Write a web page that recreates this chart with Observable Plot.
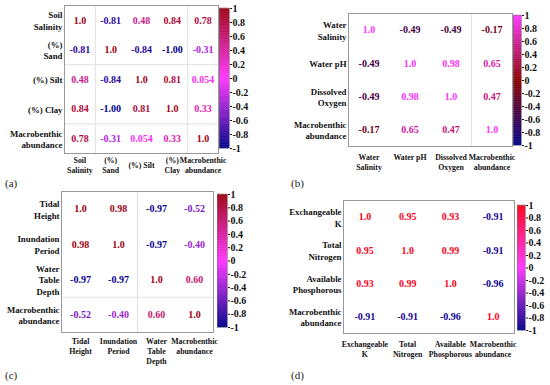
<!DOCTYPE html>
<html><head><meta charset="utf-8">
<script src="https://cdn.jsdelivr.net/npm/d3@7"></script>
<script src="https://cdn.jsdelivr.net/npm/@observablehq/plot@0.6"></script>
<style>
body{margin:0;background:#fff;}
#root{position:relative;width:550px;height:385px;overflow:hidden;font-family:"Liberation Serif","Times New Roman",serif;}
#root > *{position:absolute;}
#root svg text{font-family:"Liberation Serif","Times New Roman",serif;}
.tag{font-size:11px;color:#222;line-height:14px;}
</style></head><body><div id="root"></div>
<script>
// ---- data ----
const rowLabelsA = ["Soil\nSalinity","(%)\nSand","(%) Silt","(%) Clay","Macrobenthic\nabundance"];
const colLabelsA = ["Soil\nSalinity","(%)\nSand","(%) Silt","(%)\nClay","Macrobenthic\nabundance"];
const matrixA = [
  ["1.0","-0.81","0.48","0.84","0.78"],
  ["-0.81","1.0","-0.84","-1.00","-0.31"],
  ["0.48","-0.84","1.0","0.81","0.054"],
  ["0.84","-1.00","0.81","1.0","0.33"],
  ["0.78","-0.31","0.054","0.33","1.0"]
];
const rowLabelsB = ["Water\nSalinity","Water pH","Dissolved\nOxygen","Macrobenthic\nabundance"];
const colLabelsB = ["Water\nSalinity","Water pH","Dissolved\nOxygen","Macrobenthic\nabundance"];
const matrixB = [
  ["1.0","-0.49","-0.49","-0.17"],
  ["-0.49","1.0","0.98","0.65"],
  ["-0.49","0.98","1.0","0.47"],
  ["-0.17","0.65","0.47","1.0"]
];
const rowLabelsC = ["Tidal\nHeight","Inundation\nPeriod","Water\nTable\nDepth","Macrobenthic\nabundance"];
const colLabelsC = ["Tidal\nHeight","Inundation\nPeriod","Water\nTable\nDepth","Macrobenthic\nabundance"];
const matrixC = [
  ["1.0","0.98","-0.97","-0.52"],
  ["0.98","1.0","-0.97","-0.40"],
  ["-0.97","-0.97","1.0","0.60"],
  ["-0.52","-0.40","0.60","1.0"]
];
const rowLabelsD = ["Exchangeable\nK","Total\nNitrogen","Available\nPhosphorous","Macrobenthic\nabundance"];
const colLabelsD = ["Exchangeable\nK","Total\nNitrogen","Available\nPhosphorous","Macrobenthic\nabundance"];
const matrixD = [
  ["1.0","0.95","0.93","-0.91"],
  ["0.95","1.0","0.99","-0.91"],
  ["0.93","0.99","1.0","-0.96"],
  ["-0.91","-0.91","-0.96","1.0"]
];
// faint separator lines (drawn before the given column / row index)
const sepColsA = [1, 4], sepRowsA = [2, 4];
const sepColsB = [3],    sepRowsB = [];
const sepColsC = [2],    sepRowsC = [3];
const sepColsD = [],     sepRowsD = [];

const colorbarTicks = [1,0.8,0.6,0.4,0.2,0,-0.2,-0.4,-0.6,-0.8,-1];
const colorDomain = [-1,0,1];
const rangeA = ["#00008b","#ff33ff","#9e0010"];
const rangeB = ["#00008b","#8b0000","#ff33ff"];
const rangeC = ["#00008b","#ff33ff","#9e0010"];
const rangeD = ["#00008b","#ff33ff","#ff0018"];

// ---- drawing ----
const root = document.getElementById("root");
const FONT = '"Liberation Serif", "Times New Roman", serif';

function place(el, left, top) {
  el.style.left = left + "px";
  el.style.top = top + "px";
  root.appendChild(el);
}

function matrixPanel({rows, cols, matrix, range, frame, colAnchor, colDy, sepCols, sepRows}) {
  const [fx0, fy0, fx1, fy1] = frame;
  const ML = 80, MR = 30, MT = 10, MB = 45;
  const n = rows.length;
  const cells = [];
  matrix.forEach((row, r) => row.forEach((s, c) => cells.push({r, c, s, v: +s})));
  const svg = Plot.plot({
    width: ML + (fx1 - fx0) + MR,
    height: MT + (fy1 - fy0) + MB,
    marginLeft: ML, marginRight: MR, marginTop: MT, marginBottom: MB,
    style: {fontFamily: FONT, background: "transparent", color: "#111"},
    x: {type: "linear", domain: [0, n], axis: null},
    y: {type: "linear", domain: [0, n], reverse: true, axis: null},
    color: {type: "linear", domain: colorDomain, range, interpolate: "rgb"},
    marks: [
      Plot.ruleX(sepCols, {x: d => d, stroke: "#e2e2e2", strokeWidth: 1}),
      Plot.ruleY(sepRows, {y: d => d, stroke: "#e2e2e2", strokeWidth: 1}),
      Plot.frame({stroke: "#999", strokeWidth: 1}),
      Plot.text(cells, {x: d => d.c + 0.5, y: d => d.r + 0.5, text: "s", fill: "v", fontSize: 10, fontWeight: "bold", fontFamily: FONT}),
      Plot.text(rows, {y: (d, i) => i + 0.5, text: d => d, frameAnchor: "left", textAnchor: "end",
        dx: -2, lineAnchor: "middle", lineHeight: 1.3, fontSize: 8.8, fontWeight: "bold", fill: "#111", fontFamily: FONT}),
      Plot.text(cols, {x: (d, i) => i + 0.5, text: d => d, frameAnchor: "bottom", textAnchor: "middle",
        dy: colDy, lineAnchor: colAnchor, lineHeight: 1.3, fontSize: 7.8, fontWeight: "bold", fill: "#111", fontFamily: FONT})
    ]
  });
  place(svg, fx0 - ML, fy0 - MT);
}

function colorbar({range, bar}) {
  const [bx0, by0, bx1, by1] = bar;
  const MR = 32, MT = 8, MB = 8;
  const step = 0.01;
  const steps = d3.range(-1, 1 - 1e-9, step);
  const svg = Plot.plot({
    width: (bx1 - bx0) + MR,
    height: MT + (by1 - by0) + MB,
    marginLeft: 0, marginRight: MR, marginTop: MT, marginBottom: MB,
    style: {fontFamily: FONT, fontSize: "10px", fontWeight: "bold", background: "transparent", color: "#111"},
    x: {domain: [0, 1], axis: null},
    y: {domain: [-1, 1], axis: "right", ticks: colorbarTicks, tickSize: 2, tickPadding: 1,
        label: null, tickFormat: d => String(d)},
    color: {type: "linear", domain: colorDomain, range, interpolate: "rgb"},
    marks: [
      Plot.rect(steps, {x1: 0, x2: 1, y1: d => d, y2: d => d + step, fill: d => d + step / 2,
        stroke: d => d + step / 2, strokeWidth: 0.4}),
      Plot.frame({stroke: "#777", strokeWidth: 0.5})
    ]
  });
  place(svg, bx0, by0 - MT);
}

function tag(text, left, top) {
  const d = document.createElement("div");
  d.className = "tag";
  d.textContent = text;
  place(d, left, top);
}

matrixPanel({rows: rowLabelsA, cols: colLabelsA, matrix: matrixA, range: rangeA,
  frame: [64, 5, 218, 153], colAnchor: "middle", colDy: 11.5, sepCols: sepColsA, sepRows: sepRowsA});
matrixPanel({rows: rowLabelsB, cols: colLabelsB, matrix: matrixB, range: rangeB,
  frame: [348, 13, 512, 146], colAnchor: "top", colDy: 6, sepCols: sepColsB, sepRows: sepRowsB});
matrixPanel({rows: rowLabelsC, cols: colLabelsC, matrix: matrixC, range: rangeC,
  frame: [61, 191, 213, 332], colAnchor: "top", colDy: 4, sepCols: sepColsC, sepRows: sepRowsC});
matrixPanel({rows: rowLabelsD, cols: colLabelsD, matrix: matrixD, range: rangeD,
  frame: [343, 200, 514, 333], colAnchor: "top", colDy: 6, sepCols: sepColsD, sepRows: sepRowsD});

colorbar({range: rangeA, bar: [219, 8, 229, 148]});
colorbar({range: rangeB, bar: [513, 15, 521, 145]});
colorbar({range: rangeC, bar: [217, 194, 227, 327]});
colorbar({range: rangeD, bar: [517, 205, 525, 330]});

tag("(a)", 5, 176);
tag("(b)", 291, 176);
tag("(c)", 5, 368);
tag("(d)", 291, 368);
</script></body></html>
